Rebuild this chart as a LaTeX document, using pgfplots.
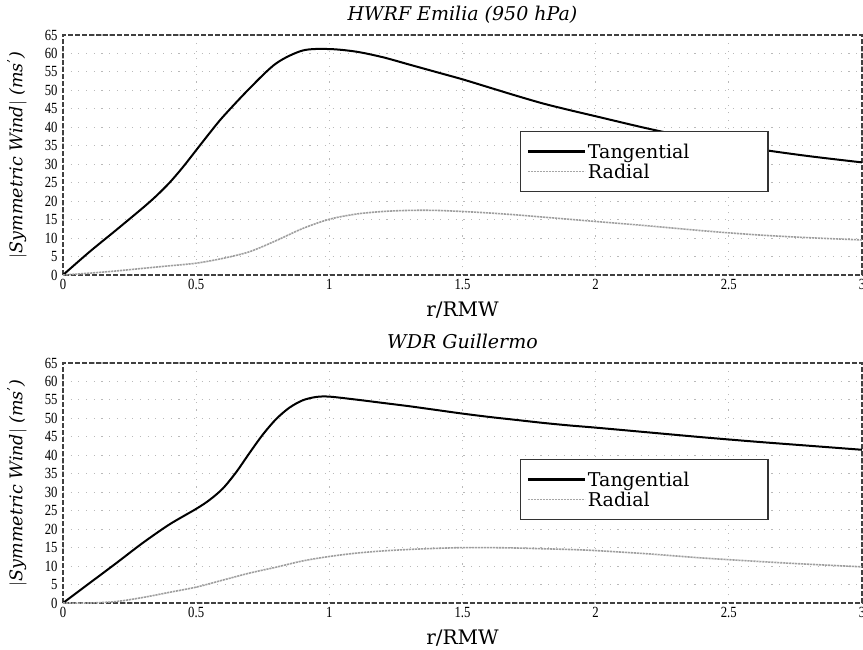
\documentclass[border=0pt]{standalone}
\usepackage{fontspec}
\setmainfont{DejaVu Serif}
\newfontfamily\tickfont[FakeStretch=0.82]{Liberation Serif}
\usepackage{pgfplots}
\pgfplotsset{compat=1.18}
\pgfplotsset{
  myaxis/.style={
    scale only axis, width=799pt, height=240pt,
    xmin=0, xmax=3, ymin=0, ymax=65,
    xtick={0,0.5,1,1.5,2,2.5,3},
    xticklabels={0,0.5,1,1.5,2,2.5,3},
    ytick={0,5,...,65},
    major tick length=0pt,
    grid=major,
    grid style={gray!55, line width=1.1pt, dash pattern=on 1.1pt off 6.6pt},
    axis line style={black!75, line width=1.3pt, dash pattern=on 5pt off 2pt},
    tick label style={font=\tickfont\fontsize{15.5}{15.5}\selectfont},
    /pgf/number format/assume math mode=true,
    xticklabel style={anchor=base, yshift=-14.5pt},
    yticklabel style={xshift=-2pt},
    xlabel={r/RMW},
    xlabel style={font=\fontsize{20}{20}\selectfont, at={(axis description cs:0.5,0)}, anchor=base, yshift=-41pt},
    ylabel={\textit{$|$Symmetric Wind$|$ (ms\textsuperscript{\textquoteright})}},
    ylabel style={font=\fontsize{17.5}{17.5}\selectfont, at={(axis description cs:-0.0576,0.5)}, anchor=center, rotate=0},
    title style={font=\itshape\fontsize{19}{19}\selectfont, at={(axis description cs:0.5,1)}, anchor=base, yshift=8.5pt},
    legend style={at={(axis cs:1.716,39)}, anchor=north west, draw=black!80, line width=1.3pt,
      font=\fontsize{19}{20}\selectfont, inner xsep=6pt, inner ysep=10pt, row sep=0pt, fill=white},
    legend cell align=left,
    legend image code/.code={\path (0pt,0pt) -- (57pt,0pt); \draw[##1] (6pt,0pt) -- (51pt,0pt);},
  },
  tang/.style={black, line width=2pt, smooth},
  rad/.style={gray!75, line width=1.6pt, dash pattern=on 2.2pt off 0.8pt, smooth},
}
\begin{document}
\begin{tikzpicture}
\begin{axis}[myaxis, at={(63pt,-275pt)}, anchor=south west, title={HWRF Emilia (950 hPa)}]
\addplot[tang, forget plot] coordinates {(0,0) (0.1,6.3) (0.2,12.2) (0.3,18.2) (0.35,21.4) (0.4,25) (0.45,29.2) (0.5,33.8) (0.55,38.4) (0.6,42.8) (0.7,50.5) (0.8,57.3) (0.9,60.8) (1.0,61.2) (1.1,60.5) (1.2,59) (1.3,57) (1.4,55) (1.5,53) (1.6,50.8) (1.7,48.6) (1.8,46.5) (1.9,44.7) (2.0,43) (2.2,39.6) (2.4,36.6) (2.6,34.2) (2.8,32.2) (3.0,30.5)};
\addplot[rad, forget plot] coordinates {(0,0) (0.1,0.5) (0.2,1.1) (0.3,1.8) (0.4,2.5) (0.5,3.2) (0.6,4.5) (0.7,6.3) (0.8,9.3) (0.9,12.6) (1.0,15.1) (1.1,16.5) (1.2,17.2) (1.3,17.5) (1.4,17.5) (1.5,17.2) (1.6,16.8) (1.7,16.3) (1.8,15.7) (1.9,15.1) (2.0,14.5) (2.2,13.3) (2.4,12) (2.6,10.9) (2.8,10.1) (3.0,9.5)};
\addlegendimage{black, line width=2.3pt}
\addlegendentry{\makebox[172pt][l]{Tangential}}
\addlegendimage{gray!70, line width=1.6pt, dash pattern=on 2.2pt off 0.8pt}
\addlegendentry{Radial}
\end{axis}
\begin{axis}[myaxis, at={(63pt,-603pt)}, anchor=south west, title={WDR Guillermo}]
\addplot[tang, forget plot] coordinates {(0,0) (0.1,5.4) (0.2,10.8) (0.3,16.3) (0.4,21.3) (0.5,25.5) (0.55,27.9) (0.6,31) (0.65,35.4) (0.7,40.6) (0.75,45.6) (0.8,49.8) (0.85,52.9) (0.9,54.9) (0.95,55.8) (1.0,55.9) (1.1,55.1) (1.2,54.2) (1.3,53.3) (1.4,52.3) (1.5,51.3) (1.6,50.4) (1.7,49.6) (1.8,48.8) (1.9,48.1) (2.0,47.5) (2.2,46.2) (2.4,44.9) (2.6,43.7) (2.8,42.6) (3.0,41.5)};
\addplot[rad, forget plot] coordinates {(0,0) (0.1,0) (0.2,0.4) (0.3,1.5) (0.4,2.9) (0.5,4.3) (0.6,6.2) (0.7,8.1) (0.8,9.7) (0.9,11.4) (1.0,12.6) (1.1,13.5) (1.2,14.1) (1.3,14.5) (1.4,14.8) (1.5,15) (1.6,15) (1.7,14.9) (1.8,14.7) (1.9,14.5) (2.0,14.2) (2.2,13.3) (2.4,12.2) (2.6,11.3) (2.8,10.5) (3.0,9.8)};
\addlegendimage{black, line width=2.3pt}
\addlegendentry{\makebox[172pt][l]{Tangential}}
\addlegendimage{gray!70, line width=1.6pt, dash pattern=on 2.2pt off 0.8pt}
\addlegendentry{Radial}
\end{axis}
\pgfresetboundingbox
\path[use as bounding box] (0pt,0pt) rectangle (863pt,-649pt);
\end{tikzpicture}
\end{document}
